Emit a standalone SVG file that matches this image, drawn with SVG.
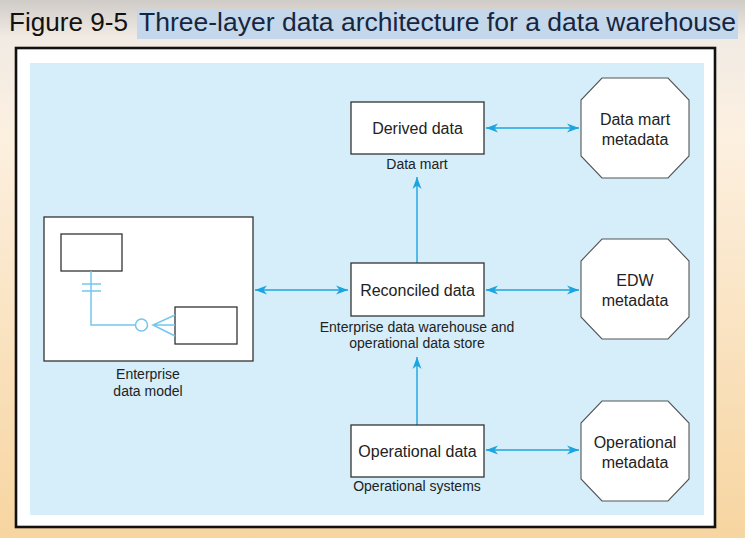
<svg xmlns="http://www.w3.org/2000/svg" width="745" height="538" viewBox="0 0 745 538">
<defs>
<linearGradient id="bg" x1="0" y1="0" x2="0" y2="1">
<stop offset="0" stop-color="#cfcbc7"/>
<stop offset="0.07" stop-color="#f1ebe4"/>
<stop offset="0.25" stop-color="#fcf0e0"/>
<stop offset="1" stop-color="#f7d5a0"/>
</linearGradient>
<marker id="ah" markerUnits="userSpaceOnUse" markerWidth="13" markerHeight="10" refX="12" refY="4.5" orient="auto-start-reverse" viewBox="0 0 13 9">
<path d="M0,0 L12,4.5 L0,9 L3.5,4.5 Z" fill="#1ba4e0"/>
</marker>
<style>
.box{fill:#fff;stroke:#333;stroke-width:1.3}
.oct{fill:#fff;stroke:#555;stroke-width:1.1}
.t{font-family:"Liberation Sans",Arial,sans-serif;fill:#222;text-anchor:middle}
.bt{font-size:16px}
.lt{font-size:14px}
.arr{stroke:#1ba4e0;stroke-width:1.4;fill:none}
.er{stroke:#74c6ee;stroke-width:1.5;fill:none}
</style>
</defs>
<rect x="0" y="0" width="745" height="538" fill="url(#bg)"/>
<rect x="137" y="9" width="601" height="30" fill="#c5d7ea"/>
<text x="9" y="31" font-family="Liberation Sans,Arial,sans-serif" font-size="26" fill="#111" textLength="119" lengthAdjust="spacingAndGlyphs">Figure 9-5</text>
<text x="139" y="31" font-family="Liberation Sans,Arial,sans-serif" font-size="26" fill="#16263f" textLength="597" lengthAdjust="spacingAndGlyphs">Three-layer data architecture for a data warehouse</text>
<rect x="16" y="48" width="699" height="479" fill="#fff" stroke="#111" stroke-width="2.6"/>
<rect x="30" y="63" width="674" height="452" fill="#d5eefa"/>

<g id="connectors">
<line class="arr" x1="255" y1="290" x2="348" y2="290" marker-start="url(#ah)" marker-end="url(#ah)"/>
<line class="arr" x1="486" y1="128" x2="579" y2="128" marker-start="url(#ah)" marker-end="url(#ah)"/>
<line class="arr" x1="486" y1="290" x2="579" y2="290" marker-start="url(#ah)" marker-end="url(#ah)"/>
<line class="arr" x1="486" y1="450" x2="579" y2="450" marker-start="url(#ah)" marker-end="url(#ah)"/>
<line class="arr" x1="417" y1="263" x2="417" y2="177" marker-end="url(#ah)"/>
<line class="arr" x1="417" y1="425" x2="417" y2="357" marker-end="url(#ah)"/>
</g>

<g id="enterprise-data-model">
<rect class="box" x="44" y="217" width="209" height="144"/>
<rect class="box" x="61" y="234" width="61" height="37"/>
<rect class="box" x="175" y="307" width="62" height="37"/>
<path class="er" d="M91,271 V325 H135.5"/>
<line class="er" x1="82" y1="284" x2="101" y2="284"/>
<line class="er" x1="82" y1="291" x2="101" y2="291"/>
<circle class="er" cx="141.5" cy="325" r="6"/>
<path class="er" d="M175,315 L153,325 L175,336 M153,325 H175"/>
<text class="t lt" x="148" y="379">Enterprise</text>
<text class="t lt" x="148" y="396">data model</text>
</g>

<g id="derived-data">
<rect class="box" x="351" y="102" width="133" height="52"/>
<text class="t bt" x="417.5" y="134">Derived data</text>
<text class="t lt" x="417" y="169">Data mart</text>
</g>

<g id="reconciled-data">
<rect class="box" x="351" y="263" width="133" height="53"/>
<text class="t bt" x="417.5" y="295.5">Reconciled data</text>
<text class="t lt" x="417" y="332">Enterprise data warehouse and</text>
<text class="t lt" x="417" y="348">operational data store</text>
</g>

<g id="operational-data">
<rect class="box" x="351" y="425" width="133" height="52"/>
<text class="t bt" x="417.5" y="456.5">Operational data</text>
<text class="t lt" x="417" y="491">Operational systems</text>
</g>

<g id="data-mart-metadata">
<polygon class="oct" points="602,78 668,78 689,100 689,156 668,178 602,178 581,156 581,100"/>
<text class="t bt" x="635" y="125">Data mart</text>
<text class="t bt" x="635" y="145">metadata</text>
</g>

<g id="edw-metadata">
<polygon class="oct" points="602,239 668,239 689,261 689,317 668,339 602,339 581,317 581,261"/>
<text class="t bt" x="635" y="286">EDW</text>
<text class="t bt" x="635" y="306">metadata</text>
</g>

<g id="operational-metadata">
<polygon class="oct" points="602,401 668,401 689,423 689,479 668,501 602,501 581,479 581,423"/>
<text class="t bt" x="635" y="448">Operational</text>
<text class="t bt" x="635" y="468">metadata</text>
</g>
</svg>
